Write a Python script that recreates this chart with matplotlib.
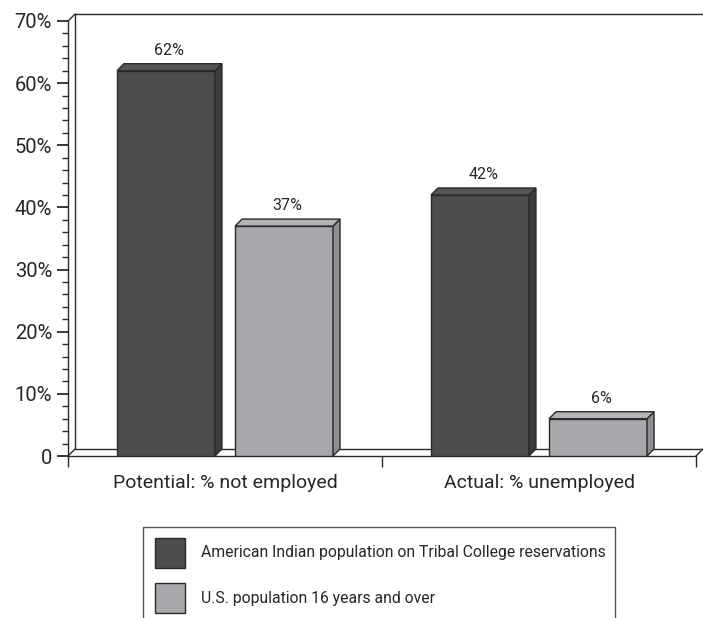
import numpy as np
import matplotlib
matplotlib.use("Agg")
import matplotlib.pyplot as plt
from matplotlib.patches import Polygon, Rectangle

plt.rcParams['font.family'] = ['Roboto', 'DejaVu Sans']

categories = ['Potential: % not employed', 'Actual: % unemployed']
series_names = ['American Indian population on Tribal College reservations',
                'U.S. population 16 years and over']
tribal = [62, 42]
us_pop = [37, 6]
yticks = [0, 10, 20, 30, 40, 50, 60, 70]
ytick_labels = ['0', '10%', '20%', '30%', '40%', '50%', '60%', '70%']

face_cols = ['#4b4c4e', '#a7a8ab']
side_cols = ['#3b3c3e', '#8e8f92']
top_cols = ['#545557', '#b3b4b7']
line_col = '#2a2a2a'
text_col = '#262626'

W, H = 703, 618
fig = plt.figure(figsize=(W / 100, H / 100), dpi=100)
ax = fig.add_axes([68 / W, (H - 456) / H, 628 / W, 435 / H])
ax.set_xlim(-0.5, 1.5)
ax.set_ylim(0, 70)

# depth of the fake 3d effect, in data units (about 7 px each way)
px_x = 2.0 / 628
px_y = 70.0 / 435
dx = 7 * px_x
dy = 7 * px_y

width = 0.312
offset = 0.188
x = np.arange(len(categories))

# back wall and floor
ax.plot([-0.5 + dx, -0.5 + dx, 1.5 + dx * 1.02], [70 + dy, dy, dy],
        color=line_col, lw=1, clip_on=False, zorder=1)
ax.plot([-0.5 + dx, 1.5 + dx * 1.02], [70 + dy, 70 + dy],
        color=line_col, lw=1, clip_on=False, zorder=1)
ax.plot([-0.5, -0.5 + dx], [70, 70 + dy], color=line_col, lw=1, clip_on=False)
ax.plot([-0.5, -0.5 + dx], [0, dy], color=line_col, lw=1, clip_on=False)
ax.plot([1.5, 1.5 + dx], [0, dy], color=line_col, lw=1, clip_on=False)


def bar3d(xc, val, k):
    x0 = xc - width / 2
    x1 = xc + width / 2
    ax.bar(xc, val, width, color=face_cols[k], edgecolor=line_col,
           linewidth=1, zorder=3)
    side = [(x1, 0), (x1 + dx, dy), (x1 + dx, val + dy), (x1, val)]
    top = [(x0, val), (x0 + dx, val + dy), (x1 + dx, val + dy), (x1, val)]
    ax.add_patch(Polygon(side, closed=True, facecolor=side_cols[k],
                         edgecolor=line_col, lw=1, zorder=3, clip_on=False))
    ax.add_patch(Polygon(top, closed=True, facecolor=top_cols[k],
                         edgecolor=line_col, lw=1, zorder=3, clip_on=False))
    ax.text(xc + dx / 2, val + dy + 6 * px_y, f'{val}%', ha='center',
            va='bottom', fontsize=11.5, color=text_col)


for i in x:
    bar3d(i - offset, tribal[i], 0)
    bar3d(i + offset, us_pop[i], 1)

for s in ['top', 'right']:
    ax.spines[s].set_visible(False)
for s in ['left', 'bottom']:
    ax.spines[s].set_color(line_col)
    ax.spines[s].set_linewidth(1)

ax.set_yticks(yticks)
ax.set_yticklabels(ytick_labels, fontsize=14.5, color=text_col)
ax.set_yticks(np.arange(0, 70, 2), minor=True)
ax.tick_params(axis='y', which='major', length=8, width=1.3, pad=3.5,
               colors=line_col, labelcolor=text_col)
ax.tick_params(axis='y', which='minor', length=4, width=1, colors=line_col)

ax.set_xticks([-0.5, 0.5, 1.5])
ax.set_xticklabels([])
ax.set_xticks(x, minor=True)
ax.set_xticklabels(categories, minor=True, fontsize=14, color=text_col)
ax.tick_params(axis='x', which='major', length=8, width=1, colors=line_col)
ax.tick_params(axis='x', which='minor', length=0, pad=13)

# legend box
fig.patches.append(Rectangle((143 / W, -0.02), (615 - 143) / W,
                             (H - 527) / H + 0.02, transform=fig.transFigure,
                             facecolor='white', edgecolor='#555555', lw=1))
for k, (name, yc) in enumerate(zip(series_names, [553, 598])):
    fig.patches.append(Rectangle((155 / W, (H - yc - 15) / H), 30 / W, 30 / H,
                                 transform=fig.transFigure,
                                 facecolor=face_cols[k], edgecolor=line_col,
                                 lw=1))
    fig.text(201 / W, (H - yc) / H, name, ha='left', va='center',
             fontsize=11.3, color=text_col)

fig.savefig('out.png', dpi=100)
